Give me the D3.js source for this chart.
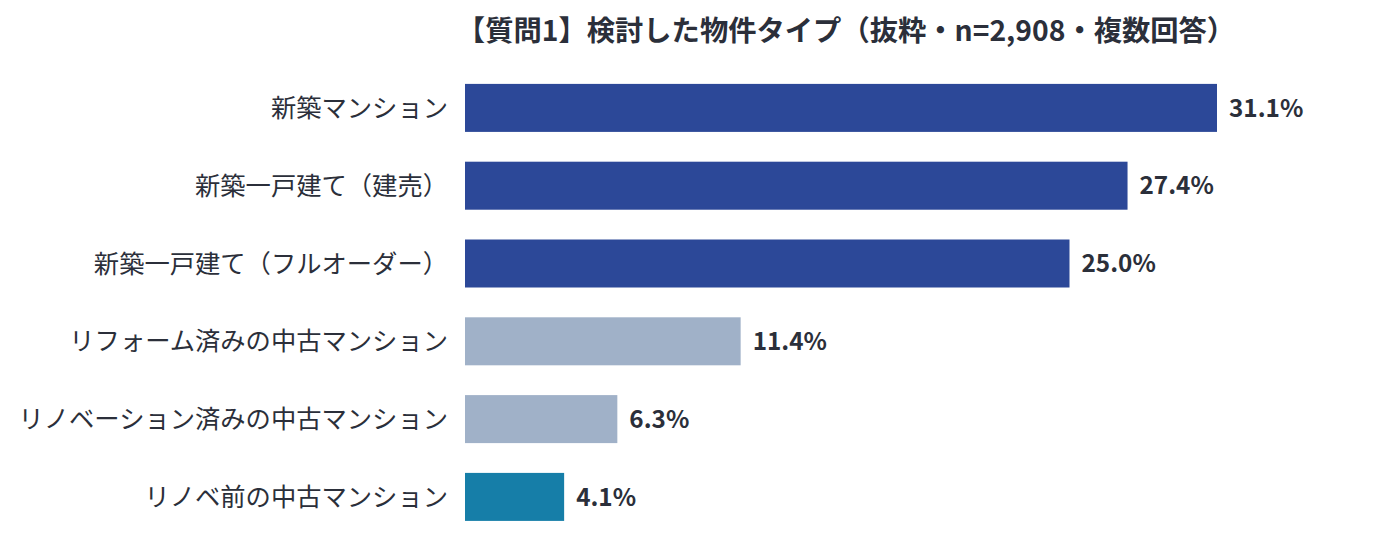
<!DOCTYPE html>
<html>
<head>
<meta charset="utf-8">
<script src="https://cdn.jsdelivr.net/npm/d3@7"></script>
<style>
    body { margin: 0; background: #fff; }
    svg { display: block; font-family: "Noto Sans CJK JP", "Noto Sans", sans-serif; }
</style>
</head>
<body>
<script>
const categories = [
    "新築マンション",
    "新築一戸建て（建売）",
    "新築一戸建て（フルオーダー）",
    "リフォーム済みの中古マンション",
    "リノベーション済みの中古マンション",
    "リノベ前の中古マンション"
];
const values = [31.1, 27.4, 25.0, 11.4, 6.3, 4.1];
const barColors = ["#2c4898", "#2c4898", "#2c4898", "#a0b1c8", "#a0b1c8", "#167ea8"];
const title = "【質問1】検討した物件タイプ（抜粋・n=2,908・複数回答）";

const width = 1398, height = 559;
const margin = {top: 69, left: 465};
const step = 77.8;

const svg = d3.select("body").append("svg")
    .attr("width", width)
    .attr("height", height)
    .attr("viewBox", [0, 0, width, height]);

const data = categories.map((c, i) => ({name: c, value: values[i], color: barColors[i]}));

// 31.1% reaches x = 1217
const x = d3.scaleLinear()
    .domain([0, 31.1])
    .range([margin.left, 1217]);

const y = d3.scaleBand()
    .domain(categories)
    .range([margin.top, margin.top + step * categories.length])
    .paddingInner(0.383)
    .paddingOuter(0.383 / 2);

svg.append("text")
    .attr("x", 846)
    .attr("y", 41)
    .attr("text-anchor", "middle")
    .attr("fill", "#2b2f3a")
    .style("font-size", "28.3px")
    .style("font-weight", "bold")
    .text(title);

svg.append("g")
    .selectAll("rect")
    .data(data)
    .join("rect")
    .attr("x", x(0))
    .attr("y", d => y(d.name))
    .attr("width", d => x(d.value) - x(0))
    .attr("height", y.bandwidth())
    .attr("fill", d => d.color);

svg.append("g")
    .selectAll("text")
    .data(data)
    .join("text")
    .attr("x", 448)
    .attr("y", d => y(d.name) + y.bandwidth() / 2)
    .attr("dy", "0.36em")
    .attr("text-anchor", "end")
    .attr("fill", "#2b2f3a")
    .style("font-size", "25.3px")
    .text(d => d.name);

svg.append("g")
    .selectAll("text")
    .data(data)
    .join("text")
    .attr("x", d => x(d.value) + 12)
    .attr("y", d => y(d.name) + y.bandwidth() / 2)
    .attr("dy", "0.36em")
    .attr("fill", "#2b2f3a")
    .style("font-size", "24.3px")
    .style("font-weight", "bold")
    .text(d => d3.format(".1f")(d.value) + "%");
</script>
</body>
</html>
